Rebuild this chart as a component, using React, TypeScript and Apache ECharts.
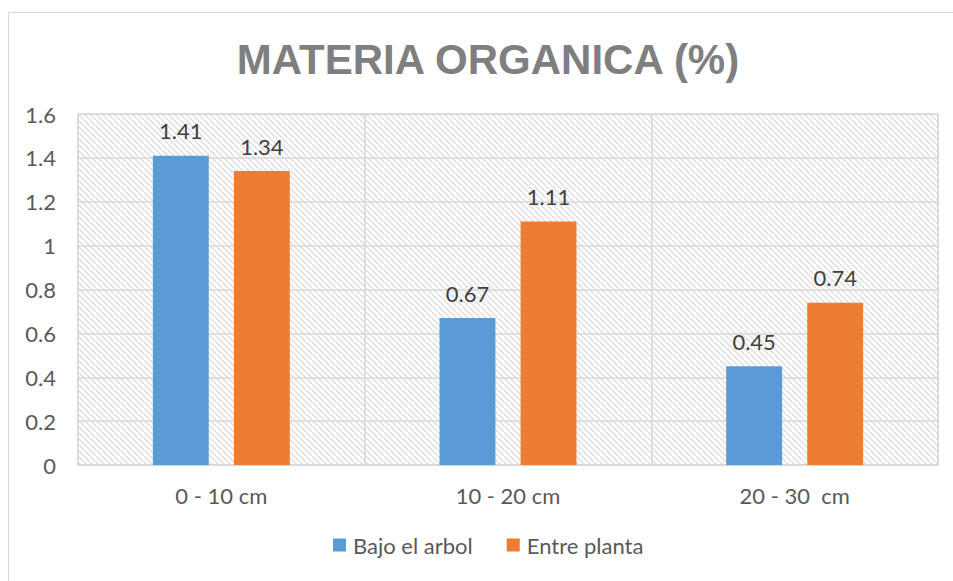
import React, { useEffect, useRef } from "react";
import * as echarts from "echarts";

const categories = ["0 - 10 cm", "10 - 20 cm", "20 - 30  cm"];
const bajoElArbol = [1.41, 0.67, 0.45];
const entrePlanta = [1.34, 1.11, 0.74];
const seriesNames = ["Bajo el arbol", "Entre planta"];
const titleText = "MATERIA ORGANICA (%)";

function makeHatch(): HTMLCanvasElement {
  const c = document.createElement("canvas");
  c.width = 6;
  c.height = 6;
  const ctx = c.getContext("2d")!;
  ctx.fillStyle = "#ffffff";
  ctx.fillRect(0, 0, 6, 6);
  ctx.strokeStyle = "#e2e2e2";
  ctx.lineWidth = 1.6;
  for (const off of [-6, 0, 6]) {
    ctx.beginPath();
    ctx.moveTo(off, 0);
    ctx.lineTo(off + 6, 6);
    ctx.stroke();
  }
  return c;
}

export default function App() {
  const ref = useRef<HTMLDivElement>(null);
  useEffect(() => {
    document.body.style.margin = "0";
    if (!ref.current) return;
    const chart = echarts.init(ref.current, undefined, { renderer: "svg" });
    const font = "Lato";
    const hatch = makeHatch();
    const fs = 22;
    chart.setOption({
      animation: false,
      backgroundColor: "#ffffff",
      graphic: [
        {
          type: "rect",
          shape: { x: 8.5, y: 12.5, width: 960, height: 600 },
          style: { fill: "none", stroke: "#d9d9d9", lineWidth: 1 },
          z: -10,
          silent: true,
        },
        {
          type: "text",
          x: 488,
          y: 59,
          style: {
            text: titleText,
            font: "bold 42px Arial, 'Liberation Sans', sans-serif",
            fill: "#7f7f7f",
            align: "center",
            verticalAlign: "middle",
          },
        },
      ],
      legend: {
        data: seriesNames,
        bottom: 20,
        left: 328,
        itemWidth: 13,
        itemHeight: 13,
        itemGap: 34,
        icon: "rect",
        textStyle: { fontFamily: font, fontSize: fs, color: "#595959", padding: [0, 0, 0, 2] },
      },
      grid: {
        left: 78,
        right: 15,
        top: 114,
        bottom: 116,
        show: true,
        backgroundColor: { image: hatch, repeat: "repeat" },
        borderColor: "#d9d9d9",
        borderWidth: 1.5,
      },
      xAxis: {
        type: "category",
        data: categories,
        axisLine: { show: true, lineStyle: { color: "#d9d9d9", width: 1.5 } },
        axisTick: { show: false },
        splitLine: { show: true, lineStyle: { color: "#d9d9d9", width: 1.5 } },
        axisLabel: { fontFamily: font, fontSize: fs, color: "#595959", margin: 19 },
      },
      yAxis: {
        type: "value",
        min: 0,
        max: 1.6,
        interval: 0.2,
        axisLine: { show: false },
        axisTick: { show: false },
        splitLine: { show: true, lineStyle: { color: "#d9d9d9", width: 1.5 } },
        axisLabel: { fontFamily: font, fontSize: fs, color: "#595959", margin: 22 },
      },
      series: [
        {
          name: seriesNames[0],
          type: "bar",
          data: bajoElArbol,
          barWidth: "19.5%",
          barGap: "45%",
          itemStyle: { color: "#5b9bd5" },
          label: {
            show: true,
            position: "top",
            distance: 14,
            fontFamily: font,
            fontSize: fs,
            color: "#404040",
          },
        },
        {
          name: seriesNames[1],
          type: "bar",
          data: entrePlanta,
          barWidth: "19.5%",
          barGap: "45%",
          itemStyle: { color: "#ed7d31" },
          label: {
            show: true,
            position: "top",
            distance: 14,
            fontFamily: font,
            fontSize: fs,
            color: "#404040",
          },
        },
      ],
    });
    return () => chart.dispose();
  }, []);
  return <div ref={ref} style={{ width: 953, height: 581 }} />;
}
